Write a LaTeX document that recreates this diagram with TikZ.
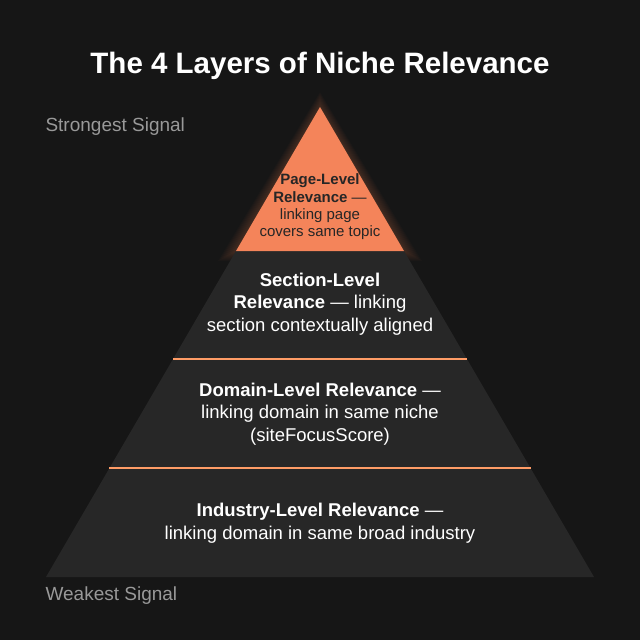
\documentclass[tikz,border=0pt]{standalone}
\usepackage{fontspec}
\setmainfont{Liberation Sans}
\begin{document}
\begin{tikzpicture}[x=1pt,y=-1pt,
  lbl/.style={align=center,text=white,font=\fontsize{18.5}{22.5}\selectfont},
  side/.style={text=gray!80,font=\fontsize{19}{22}\selectfont,anchor=west},
  sep/.style={draw=orange!70!red!60!white,line width=2.5pt}]
\definecolor{bg}{HTML}{161616}
\definecolor{band}{HTML}{272727}
\definecolor{org}{HTML}{F4845A}
\fill[bg] (0,0) rectangle (640,640);
% glow
\foreach \i in {1,...,10}{
  \fill[org,opacity=0.025] (320,107-\i*1.5) -- (404+\i*1.8,251+\i) -- (236-\i*1.8,251+\i) -- cycle;}
\fill[band] (236,251) -- (404,251) -- (594,577) -- (46,577) -- cycle;
\fill[org] (320,107) -- (404,251) -- (236,251) -- cycle;
\draw[sep] (173,359) -- (467,359);
\draw[sep] (109,468) -- (531,468);
\node[text=white,font=\bfseries\fontsize{29.5}{32}\selectfont] (title) at (320,66) {The 4 Layers of Niche Relevance};
\node[side] (strong) at (42,127) {Strongest Signal};
\node[side] (weak) at (42,596) {Weakest Signal};
\node[align=center,text=black!85,font=\fontsize{15}{17.3}\selectfont] (page) at (320,207) {\textbf{Page-Level}\\\textbf{Relevance} —\\linking page\\covers same topic};
\node[lbl] (section) at (320,304) {\textbf{Section-Level}\\\textbf{Relevance} — linking\\section contextually aligned};
\node[lbl] (domain) at (320,414) {\textbf{Domain-Level Relevance} —\\linking domain in same niche\\(siteFocusScore)};
\node[lbl] (industry) at (320,523) {\textbf{Industry-Level Relevance} —\\linking domain in same broad industry};
\end{tikzpicture}
\end{document}
